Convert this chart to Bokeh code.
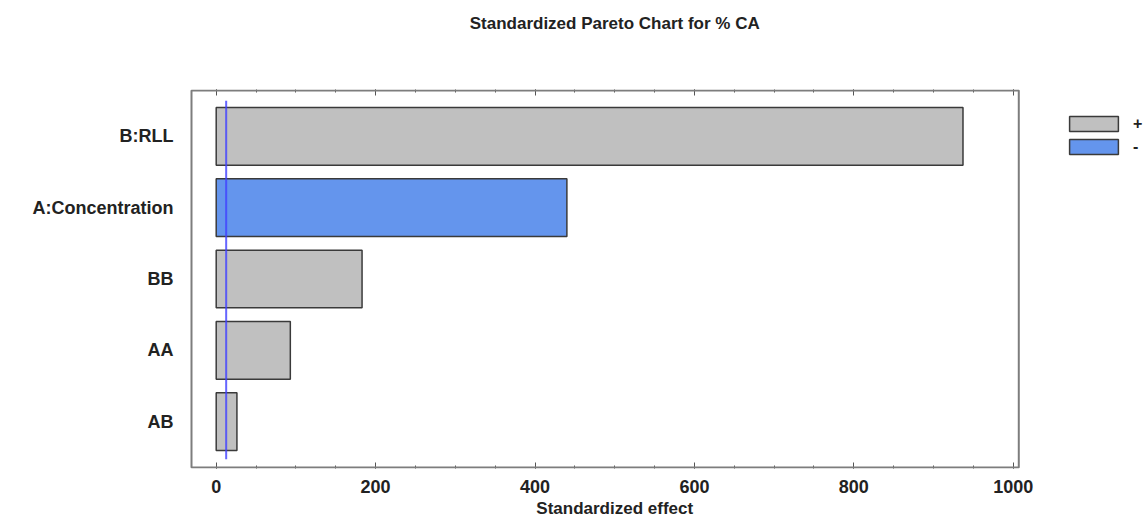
from bokeh.plotting import figure
from bokeh.models import (Range1d, FixedTicker, LinearAxis, BoxAnnotation,
                          Legend, LegendItem, ColumnDataSource)
from bokeh.embed import file_html
from bokeh.resources import INLINE

# Effects in display order (top to bottom)
terms = ["B:RLL", "A:Concentration", "BB", "AA", "AB"]
effects = [937, 440, 183, 93, 26]
signs = ["+", "-", "+", "+", "+"]
critical_value = 12.5
x_ticks = [0, 200, 400, 600, 800, 1000]
x_minor = list(range(0, 1001, 50))

TITLE = "Standardized Pareto Chart for % CA"
X_LABEL = "Standardized effect"

# visible plotting box (data units); the canvas frame extends further right
BOX_X = (-31, 1007)
BOX_Y = (-0.645, 4.645)

POS_COLOR = "#c0c0c0"
NEG_COLOR = "#6495ed"
FONT = "Liberation Sans"
TEXT = "#222222"

PX_X = 0.797   # pixels per unit along x
PX_Y = 71.3    # pixels per category step

p = figure(width=1146, height=521, output_backend="svg", toolbar_location=None,
           x_range=Range1d(BOX_X[0] - 2 / PX_X, BOX_X[0] + (1146 - 191) / PX_X),
           y_range=Range1d(BOX_Y[1] + 1 / PX_Y, BOX_Y[0] - 1 / PX_Y),
           x_axis_type=None, y_axis_type=None, title=None,
           min_border_left=189, min_border_right=0,
           min_border_top=89, min_border_bottom=53)
p.grid.visible = False
p.outline_line_color = None
p.background_fill_color = "white"
p.border_fill_color = "white"

p.add_layout(BoxAnnotation(left=BOX_X[0], right=BOX_X[1],
                           top=BOX_Y[0], bottom=BOX_Y[1],
                           fill_alpha=0, line_color="#7d7d7d", line_alpha=1,
                           line_width=2))

idx = list(range(len(terms)))
pos = ColumnDataSource(dict(y=[i for i in idx if signs[i] == "+"],
                            right=[effects[i] for i in idx if signs[i] == "+"]))
neg = ColumnDataSource(dict(y=[i for i in idx if signs[i] == "-"],
                            right=[effects[i] for i in idx if signs[i] == "-"]))

r_pos = p.hbar(y="y", right="right", left=0, height=0.81, source=pos,
               fill_color=POS_COLOR, line_color="#3a3a3a", line_width=1.5)
r_neg = p.hbar(y="y", right="right", left=0, height=0.81, source=neg,
               fill_color=NEG_COLOR, line_color="#3a3a3a", line_width=1.5)

# critical value reference line
p.segment(x0=[critical_value], x1=[critical_value], y0=[-0.5], y1=[4.53],
          line_color="#4040ff", line_width=2, line_alpha=0.8)

ticker = FixedTicker(ticks=x_ticks, minor_ticks=x_minor)
mid_x = (x_ticks[0] + x_ticks[-1]) / 2


def tick_axis(ax):
    ax.axis_line_color = None
    ax.major_tick_in = 6
    ax.major_tick_out = 0
    ax.minor_tick_in = 3
    ax.minor_tick_out = 0
    ax.major_tick_line_color = "#555555"
    ax.minor_tick_line_color = "#555555"


def caption_axis(text, standoff, size):
    # a tick-less axis whose single label is centred over the value scale
    ax = LinearAxis(ticker=FixedTicker(ticks=[mid_x], minor_ticks=[]),
                    major_label_overrides={mid_x: text})
    ax.axis_line_color = None
    ax.major_tick_line_color = None
    ax.minor_tick_line_color = None
    ax.major_tick_in = 0
    ax.major_tick_out = 0
    ax.major_label_standoff = standoff
    ax.major_label_text_font = FONT
    ax.major_label_text_font_style = "bold"
    ax.major_label_text_font_size = size
    ax.major_label_text_color = TEXT
    return ax


xb = LinearAxis(ticker=ticker)
tick_axis(xb)
xb.major_label_text_font = FONT
xb.major_label_text_font_style = "bold"
xb.major_label_text_font_size = "18px"
xb.major_label_text_color = TEXT
xb.major_label_standoff = 11
p.add_layout(xb, "below")
p.add_layout(caption_axis(X_LABEL, 3, "17px"), "below")

# mirrored ticks along the top edge, then the chart title above them
xt = LinearAxis(ticker=ticker, major_label_overrides={t: "" for t in x_ticks})
tick_axis(xt)
xt.major_label_standoff = 0
p.add_layout(xt, "above")
p.add_layout(caption_axis(TITLE, 57, "17px"), "above")

# category labels on the left
yl = LinearAxis(ticker=FixedTicker(ticks=idx),
                major_label_overrides={i: t for i, t in enumerate(terms)})
yl.axis_line_color = None
yl.major_tick_line_color = None
yl.minor_tick_line_color = None
yl.major_label_text_font = FONT
yl.major_label_text_font_style = "bold"
yl.major_label_text_font_size = "18px"
yl.major_label_text_color = TEXT
yl.major_label_standoff = 10
p.add_layout(yl, "left")

legend = Legend(items=[LegendItem(label="+", renderers=[r_pos]),
                       LegendItem(label="-", renderers=[r_neg])],
                location=(874, 312), padding=0, margin=0, spacing=4,
                glyph_width=61, glyph_height=19, label_height=19,
                label_standoff=9, border_line_color=None,
                background_fill_alpha=0, label_text_font=FONT,
                label_text_font_style="bold", label_text_font_size="16px",
                label_text_color=TEXT)
p.add_layout(legend, "center")

open("out.html", "w").write(file_html(p, INLINE))
